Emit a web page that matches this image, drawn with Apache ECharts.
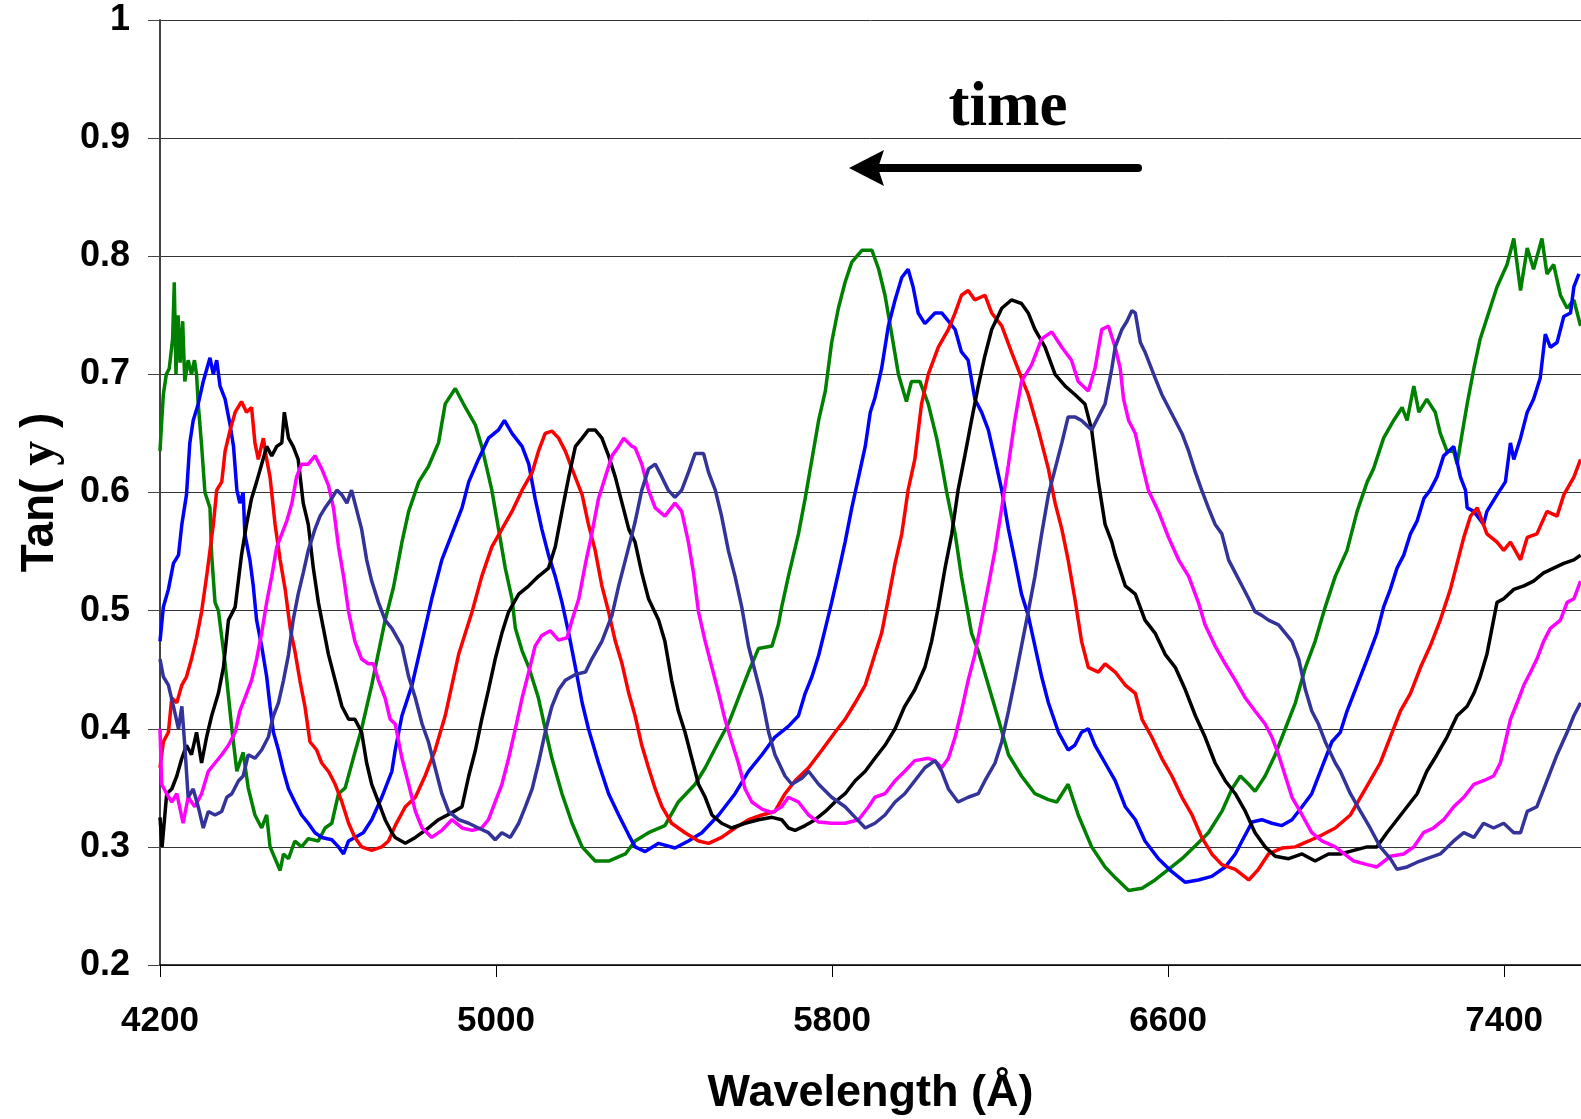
<!DOCTYPE html>
<html>
<head>
<meta charset="utf-8">
<script src="https://cdn.jsdelivr.net/npm/echarts@6/dist/echarts.min.js"></script>
<style>html,body{margin:0;padding:0;background:#fff}#c{width:1581px;height:1119px}</style>
</head>
<body>
<div id="c"></div>
<script>
// Axis ticks
const xTicks = [4200, 5000, 5800, 6600, 7400];
const yTicks = [0.2, 0.3, 0.4, 0.5, 0.6, 0.7, 0.8, 0.9, 1];

// Series: [wavelength (Å), Tan(psi)]
const green = [[4200,0.635],[4204,0.66],[4208,0.683],[4215,0.70],[4222,0.705],[4230,0.73],[4234,0.778],[4238,0.70],[4243,0.75],[4248,0.71],[4254,0.745],[4259,0.694],[4267,0.712],[4275,0.70],[4282,0.712],[4287,0.70],[4291,0.675],[4299,0.64],[4307,0.60],[4319,0.587],[4323,0.547],[4331,0.507],[4339,0.50],[4355,0.455],[4371,0.40],[4383,0.364],[4398,0.38],[4410,0.35],[4426,0.327],[4442,0.316],[4454,0.327],[4462,0.30],[4486,0.28],[4494,0.294],[4506,0.29],[4521,0.305],[4537,0.30],[4553,0.307],[4577,0.305],[4593,0.316],[4609,0.32],[4625,0.345],[4641,0.35],[4664,0.38],[4680,0.40],[4704,0.437],[4736,0.492],[4756,0.52],[4776,0.558],[4792,0.584],[4816,0.609],[4839,0.622],[4863,0.642],[4879,0.675],[4903,0.688],[4927,0.672],[4951,0.657],[4966,0.639],[4990,0.602],[5006,0.569],[5022,0.536],[5038,0.51],[5046,0.485],[5062,0.466],[5078,0.452],[5101,0.426],[5117,0.40],[5133,0.375],[5157,0.345],[5181,0.32],[5205,0.30],[5236,0.288],[5268,0.288],[5308,0.294],[5331,0.305],[5363,0.312],[5402,0.318],[5434,0.338],[5474,0.353],[5498,0.367],[5530,0.389],[5553,0.404],[5577,0.426],[5601,0.448],[5625,0.468],[5657,0.47],[5672,0.488],[5680,0.503],[5696,0.529],[5720,0.565],[5736,0.595],[5752,0.628],[5768,0.661],[5784,0.686],[5799,0.727],[5815,0.756],[5831,0.778],[5847,0.795],[5871,0.805],[5895,0.805],[5911,0.789],[5926,0.767],[5942,0.734],[5958,0.70],[5977,0.677],[5989,0.694],[6009,0.694],[6029,0.675],[6049,0.646],[6061,0.624],[6073,0.60],[6093,0.565],[6108,0.529],[6132,0.481],[6148,0.466],[6172,0.437],[6196,0.408],[6220,0.378],[6251,0.36],[6283,0.345],[6315,0.34],[6335,0.338],[6362,0.353],[6386,0.327],[6418,0.30],[6450,0.283],[6474,0.274],[6506,0.263],[6538,0.265],[6569,0.272],[6601,0.281],[6633,0.29],[6665,0.301],[6696,0.312],[6728,0.33],[6752,0.349],[6772,0.36],[6792,0.353],[6807,0.347],[6831,0.36],[6855,0.378],[6879,0.40],[6903,0.422],[6927,0.452],[6950,0.474],[6974,0.503],[6998,0.529],[7026,0.551],[7050,0.584],[7074,0.609],[7089,0.62],[7113,0.646],[7137,0.661],[7157,0.672],[7169,0.661],[7185,0.69],[7197,0.668],[7216,0.679],[7236,0.668],[7248,0.65],[7264,0.635],[7280,0.635],[7288,0.624],[7300,0.65],[7312,0.675],[7328,0.705],[7343,0.73],[7363,0.752],[7383,0.774],[7407,0.793],[7423,0.815],[7439,0.771],[7455,0.807],[7470,0.789],[7490,0.815],[7502,0.785],[7518,0.793],[7534,0.767],[7550,0.756],[7566,0.763],[7582,0.741]];

const blue = [[4200,0.474],[4208,0.503],[4220,0.518],[4232,0.54],[4244,0.547],[4252,0.573],[4263,0.598],[4271,0.642],[4279,0.661],[4291,0.675],[4303,0.694],[4319,0.714],[4327,0.70],[4335,0.712],[4343,0.69],[4355,0.679],[4367,0.657],[4375,0.639],[4383,0.602],[4390,0.591],[4398,0.60],[4402,0.565],[4414,0.543],[4422,0.521],[4430,0.492],[4442,0.47],[4454,0.444],[4462,0.419],[4470,0.397],[4482,0.382],[4494,0.364],[4506,0.349],[4521,0.338],[4537,0.327],[4553,0.32],[4569,0.312],[4585,0.308],[4609,0.306],[4625,0.30],[4637,0.294],[4649,0.305],[4664,0.308],[4684,0.312],[4704,0.323],[4728,0.342],[4752,0.364],[4760,0.382],[4776,0.411],[4800,0.437],[4824,0.474],[4847,0.51],[4871,0.543],[4895,0.565],[4919,0.587],[4935,0.609],[4958,0.628],[4982,0.646],[5006,0.653],[5020,0.661],[5038,0.65],[5062,0.639],[5078,0.624],[5093,0.595],[5109,0.569],[5125,0.547],[5141,0.529],[5157,0.507],[5173,0.481],[5189,0.452],[5205,0.422],[5220,0.40],[5244,0.371],[5268,0.345],[5292,0.327],[5316,0.31],[5331,0.30],[5355,0.296],[5387,0.303],[5426,0.299],[5458,0.305],[5490,0.312],[5530,0.327],[5569,0.345],[5601,0.364],[5633,0.378],[5664,0.393],[5696,0.402],[5720,0.411],[5736,0.43],[5752,0.444],[5768,0.462],[5784,0.485],[5799,0.507],[5815,0.532],[5831,0.558],[5847,0.587],[5863,0.613],[5879,0.639],[5891,0.668],[5902,0.68],[5918,0.705],[5934,0.741],[5950,0.763],[5966,0.782],[5981,0.789],[5993,0.774],[6005,0.752],[6021,0.743],[6045,0.752],[6061,0.752],[6077,0.745],[6093,0.738],[6108,0.719],[6124,0.712],[6140,0.679],[6156,0.668],[6172,0.653],[6188,0.628],[6204,0.602],[6220,0.569],[6235,0.543],[6251,0.514],[6267,0.496],[6283,0.47],[6299,0.444],[6315,0.422],[6339,0.397],[6362,0.382],[6378,0.386],[6394,0.397],[6410,0.40],[6426,0.386],[6450,0.371],[6474,0.356],[6498,0.334],[6522,0.323],[6545,0.305],[6577,0.29],[6609,0.279],[6641,0.27],[6672,0.272],[6704,0.275],[6736,0.283],[6760,0.294],[6776,0.305],[6800,0.321],[6823,0.323],[6847,0.32],[6871,0.318],[6895,0.323],[6919,0.334],[6942,0.345],[6966,0.367],[6990,0.389],[7010,0.397],[7026,0.415],[7050,0.437],[7074,0.459],[7097,0.481],[7113,0.503],[7129,0.518],[7145,0.536],[7161,0.547],[7177,0.565],[7193,0.576],[7209,0.595],[7224,0.602],[7240,0.613],[7256,0.631],[7280,0.639],[7296,0.613],[7308,0.602],[7312,0.587],[7328,0.584],[7351,0.573],[7359,0.584],[7383,0.598],[7403,0.609],[7415,0.642],[7423,0.628],[7439,0.646],[7455,0.668],[7470,0.679],[7486,0.697],[7498,0.734],[7510,0.723],[7526,0.727],[7542,0.749],[7558,0.752],[7566,0.774],[7578,0.785]];

const red = [[4200,0.367],[4208,0.389],[4220,0.397],[4228,0.426],[4240,0.422],[4252,0.437],[4263,0.444],[4275,0.459],[4287,0.477],[4299,0.499],[4311,0.529],[4319,0.551],[4327,0.573],[4335,0.602],[4347,0.609],[4355,0.635],[4367,0.653],[4379,0.668],[4394,0.677],[4406,0.668],[4418,0.672],[4426,0.642],[4434,0.628],[4446,0.646],[4454,0.628],[4462,0.613],[4474,0.573],[4486,0.543],[4498,0.518],[4510,0.485],[4521,0.466],[4533,0.441],[4545,0.419],[4557,0.389],[4573,0.382],[4585,0.371],[4601,0.364],[4617,0.353],[4633,0.338],[4649,0.32],[4664,0.308],[4680,0.30],[4704,0.297],[4728,0.30],[4744,0.305],[4760,0.318],[4784,0.334],[4808,0.342],[4831,0.36],[4855,0.382],[4879,0.411],[4895,0.437],[4911,0.463],[4927,0.481],[4943,0.499],[4966,0.529],[4990,0.554],[5014,0.569],[5038,0.584],[5062,0.602],[5086,0.617],[5101,0.635],[5117,0.65],[5133,0.652],[5149,0.646],[5165,0.635],[5181,0.62],[5205,0.598],[5220,0.573],[5236,0.551],[5252,0.521],[5268,0.499],[5284,0.474],[5300,0.455],[5316,0.43],[5331,0.411],[5347,0.386],[5363,0.367],[5379,0.349],[5395,0.334],[5418,0.32],[5450,0.312],[5482,0.305],[5506,0.303],[5537,0.308],[5569,0.316],[5601,0.323],[5633,0.327],[5664,0.33],[5688,0.345],[5712,0.356],[5744,0.367],[5776,0.382],[5807,0.397],[5831,0.408],[5855,0.422],[5879,0.437],[5895,0.455],[5902,0.463],[5918,0.481],[5934,0.51],[5950,0.54],[5966,0.565],[5981,0.602],[5997,0.628],[6013,0.675],[6029,0.70],[6053,0.723],[6077,0.738],[6093,0.752],[6108,0.767],[6124,0.771],[6140,0.763],[6164,0.767],[6180,0.752],[6204,0.741],[6227,0.719],[6251,0.697],[6267,0.683],[6291,0.653],[6315,0.62],[6331,0.591],[6347,0.569],[6362,0.543],[6378,0.51],[6394,0.474],[6410,0.452],[6434,0.448],[6450,0.455],[6474,0.448],[6498,0.437],[6522,0.43],[6538,0.408],[6561,0.393],[6585,0.375],[6609,0.36],[6633,0.342],[6657,0.327],[6680,0.308],[6704,0.294],[6728,0.285],[6760,0.281],[6792,0.272],[6815,0.281],[6839,0.294],[6871,0.299],[6903,0.30],[6935,0.305],[6966,0.31],[6998,0.316],[7034,0.327],[7058,0.342],[7081,0.356],[7105,0.371],[7129,0.393],[7153,0.415],[7177,0.43],[7201,0.452],[7224,0.47],[7248,0.492],[7272,0.518],[7288,0.54],[7304,0.562],[7320,0.58],[7336,0.587],[7359,0.565],[7383,0.558],[7399,0.551],[7415,0.558],[7439,0.543],[7455,0.562],[7478,0.565],[7502,0.584],[7526,0.58],[7542,0.598],[7566,0.613],[7582,0.628]];

const black = [[4200,0.325],[4205,0.30],[4216,0.345],[4228,0.349],[4240,0.36],[4252,0.375],[4263,0.386],[4275,0.378],[4287,0.397],[4299,0.371],[4311,0.393],[4323,0.411],[4339,0.43],[4351,0.452],[4363,0.492],[4379,0.503],[4394,0.547],[4406,0.573],[4418,0.595],[4430,0.609],[4442,0.624],[4454,0.639],[4466,0.631],[4478,0.639],[4490,0.642],[4496,0.668],[4506,0.646],[4517,0.639],[4529,0.628],[4541,0.591],[4553,0.573],[4565,0.536],[4577,0.507],[4589,0.485],[4601,0.463],[4617,0.441],[4633,0.419],[4649,0.408],[4664,0.408],[4680,0.397],[4692,0.371],[4704,0.353],[4720,0.338],[4736,0.323],[4752,0.312],[4760,0.308],[4784,0.303],[4808,0.308],[4839,0.316],[4863,0.323],[4895,0.329],[4919,0.334],[4935,0.36],[4951,0.382],[4966,0.408],[4982,0.433],[4998,0.459],[5014,0.481],[5030,0.499],[5054,0.514],[5078,0.521],[5101,0.529],[5125,0.536],[5141,0.554],[5157,0.584],[5173,0.613],[5189,0.639],[5205,0.646],[5220,0.653],[5236,0.653],[5252,0.646],[5268,0.631],[5284,0.613],[5300,0.591],[5316,0.569],[5331,0.558],[5347,0.532],[5363,0.51],[5387,0.492],[5402,0.474],[5418,0.441],[5434,0.415],[5450,0.397],[5466,0.375],[5482,0.353],[5498,0.342],[5514,0.327],[5537,0.32],[5561,0.316],[5593,0.32],[5625,0.323],[5657,0.325],[5680,0.323],[5696,0.316],[5712,0.314],[5736,0.318],[5760,0.323],[5784,0.33],[5807,0.338],[5831,0.345],[5855,0.356],[5879,0.364],[5902,0.375],[5926,0.386],[5950,0.40],[5973,0.419],[5997,0.433],[6021,0.452],[6037,0.474],[6053,0.503],[6069,0.536],[6085,0.565],[6100,0.602],[6116,0.631],[6132,0.661],[6148,0.69],[6164,0.716],[6180,0.738],[6204,0.756],[6227,0.763],[6251,0.76],[6267,0.752],[6283,0.738],[6307,0.723],[6331,0.70],[6355,0.69],[6378,0.683],[6402,0.675],[6418,0.653],[6434,0.609],[6450,0.573],[6466,0.558],[6474,0.547],[6498,0.521],[6522,0.514],[6545,0.492],[6569,0.481],[6593,0.463],[6617,0.452],[6641,0.433],[6665,0.411],[6688,0.393],[6712,0.371],[6736,0.356],[6760,0.345],[6784,0.33],[6807,0.312],[6831,0.30],[6855,0.292],[6887,0.29],[6919,0.294],[6950,0.288],[6982,0.294],[7010,0.294],[7042,0.297],[7074,0.30],[7097,0.30],[7121,0.312],[7145,0.323],[7169,0.334],[7193,0.345],[7216,0.364],[7240,0.378],[7264,0.393],[7288,0.411],[7312,0.419],[7328,0.43],[7343,0.444],[7359,0.463],[7371,0.485],[7383,0.507],[7399,0.51],[7423,0.518],[7447,0.521],[7470,0.525],[7494,0.532],[7518,0.536],[7542,0.54],[7566,0.543],[7582,0.547]];

const magenta = [[4200,0.40],[4204,0.353],[4216,0.345],[4228,0.338],[4240,0.345],[4255,0.32],[4267,0.342],[4283,0.334],[4299,0.345],[4315,0.364],[4331,0.371],[4347,0.378],[4363,0.386],[4379,0.397],[4390,0.415],[4402,0.426],[4418,0.441],[4430,0.459],[4442,0.481],[4454,0.507],[4466,0.529],[4478,0.554],[4490,0.565],[4502,0.576],[4514,0.591],[4525,0.613],[4537,0.624],[4553,0.624],[4569,0.631],[4585,0.62],[4601,0.606],[4613,0.587],[4625,0.554],[4637,0.529],[4649,0.499],[4664,0.474],[4680,0.459],[4696,0.455],[4708,0.455],[4720,0.441],[4736,0.426],[4748,0.408],[4760,0.404],[4776,0.375],[4792,0.353],[4808,0.33],[4824,0.316],[4847,0.308],[4871,0.314],[4895,0.323],[4919,0.316],[4943,0.314],[4966,0.316],[4982,0.323],[4998,0.338],[5014,0.353],[5030,0.375],[5046,0.40],[5062,0.426],[5078,0.448],[5093,0.47],[5109,0.479],[5129,0.483],[5149,0.475],[5169,0.477],[5181,0.492],[5197,0.51],[5213,0.54],[5228,0.565],[5244,0.595],[5260,0.613],[5276,0.631],[5292,0.639],[5304,0.646],[5324,0.639],[5331,0.638],[5347,0.624],[5363,0.602],[5379,0.587],[5402,0.58],[5426,0.591],[5442,0.584],[5458,0.558],[5470,0.532],[5482,0.499],[5498,0.474],[5514,0.452],[5530,0.43],[5545,0.408],[5561,0.389],[5577,0.371],[5593,0.349],[5609,0.338],[5633,0.332],[5657,0.329],[5680,0.334],[5696,0.342],[5720,0.338],[5744,0.327],[5768,0.321],[5799,0.32],[5831,0.32],[5863,0.323],[5887,0.334],[5902,0.342],[5926,0.345],[5950,0.356],[5973,0.364],[5997,0.373],[6029,0.375],[6045,0.373],[6061,0.367],[6077,0.375],[6093,0.393],[6108,0.415],[6124,0.441],[6140,0.463],[6156,0.492],[6172,0.521],[6188,0.551],[6204,0.587],[6220,0.624],[6235,0.661],[6251,0.694],[6275,0.708],[6299,0.73],[6323,0.736],[6347,0.723],[6370,0.712],[6386,0.694],[6410,0.686],[6426,0.705],[6442,0.738],[6458,0.741],[6474,0.723],[6486,0.705],[6494,0.679],[6506,0.661],[6522,0.65],[6538,0.624],[6553,0.602],[6577,0.584],[6601,0.562],[6625,0.543],[6649,0.529],[6672,0.507],[6688,0.488],[6712,0.47],[6736,0.455],[6760,0.441],[6784,0.426],[6807,0.415],[6831,0.404],[6847,0.393],[6863,0.378],[6879,0.36],[6895,0.342],[6919,0.327],[6942,0.312],[6966,0.305],[6998,0.30],[7042,0.288],[7074,0.285],[7097,0.283],[7129,0.292],[7161,0.294],[7185,0.30],[7208,0.312],[7232,0.316],[7256,0.323],[7280,0.334],[7304,0.342],[7328,0.353],[7351,0.356],[7375,0.36],[7391,0.371],[7403,0.389],[7415,0.408],[7431,0.422],[7447,0.437],[7463,0.448],[7478,0.459],[7494,0.474],[7510,0.485],[7534,0.492],[7550,0.507],[7566,0.51],[7582,0.525]];

const navy = [[4200,0.459],[4208,0.444],[4220,0.437],[4232,0.419],[4244,0.40],[4252,0.419],[4259,0.386],[4267,0.342],[4279,0.349],[4291,0.334],[4303,0.316],[4315,0.33],[4331,0.327],[4347,0.33],[4359,0.342],[4371,0.345],[4387,0.356],[4398,0.36],[4410,0.378],[4426,0.375],[4442,0.382],[4458,0.393],[4470,0.411],[4482,0.422],[4494,0.441],[4506,0.463],[4517,0.492],[4529,0.514],[4541,0.532],[4553,0.551],[4569,0.569],[4581,0.58],[4593,0.587],[4609,0.595],[4621,0.602],[4633,0.598],[4645,0.591],[4656,0.602],[4664,0.591],[4680,0.569],[4692,0.543],[4704,0.525],[4720,0.507],[4736,0.492],[4752,0.485],[4776,0.47],[4792,0.444],[4808,0.426],[4824,0.404],[4839,0.389],[4855,0.367],[4871,0.345],[4887,0.33],[4911,0.323],[4935,0.32],[4958,0.316],[4982,0.312],[4998,0.306],[5014,0.312],[5034,0.308],[5054,0.32],[5070,0.334],[5086,0.349],[5101,0.371],[5117,0.397],[5133,0.419],[5149,0.433],[5165,0.441],[5189,0.446],[5213,0.448],[5228,0.459],[5252,0.474],[5276,0.496],[5292,0.521],[5308,0.543],[5324,0.565],[5331,0.575],[5347,0.602],[5363,0.62],[5379,0.624],[5395,0.613],[5410,0.602],[5426,0.596],[5442,0.602],[5458,0.617],[5474,0.633],[5494,0.633],[5506,0.617],[5522,0.602],[5537,0.58],[5553,0.551],[5569,0.529],[5585,0.503],[5601,0.47],[5617,0.448],[5633,0.426],[5649,0.397],[5664,0.378],[5688,0.36],[5704,0.353],[5728,0.358],[5744,0.364],[5768,0.353],[5799,0.342],[5831,0.334],[5855,0.325],[5879,0.316],[5902,0.32],[5926,0.327],[5950,0.338],[5973,0.345],[5997,0.356],[6021,0.367],[6045,0.373],[6061,0.364],[6077,0.349],[6100,0.338],[6124,0.342],[6148,0.345],[6164,0.356],[6188,0.371],[6204,0.389],[6220,0.415],[6235,0.441],[6251,0.47],[6267,0.499],[6283,0.529],[6299,0.565],[6315,0.598],[6331,0.62],[6347,0.642],[6362,0.664],[6378,0.664],[6394,0.661],[6418,0.653],[6434,0.664],[6450,0.675],[6466,0.705],[6474,0.723],[6490,0.738],[6502,0.745],[6514,0.754],[6522,0.752],[6534,0.727],[6545,0.719],[6557,0.708],[6569,0.697],[6585,0.683],[6601,0.672],[6617,0.661],[6633,0.65],[6649,0.635],[6665,0.617],[6680,0.602],[6696,0.587],[6712,0.573],[6728,0.565],[6744,0.543],[6760,0.532],[6776,0.521],[6792,0.51],[6807,0.499],[6823,0.496],[6839,0.492],[6863,0.488],[6879,0.481],[6895,0.474],[6911,0.459],[6927,0.433],[6942,0.415],[6958,0.404],[6974,0.389],[6998,0.371],[7010,0.364],[7034,0.345],[7058,0.33],[7081,0.316],[7105,0.30],[7129,0.29],[7145,0.281],[7169,0.283],[7193,0.287],[7216,0.29],[7248,0.294],[7280,0.305],[7304,0.312],[7328,0.308],[7351,0.32],[7375,0.316],[7399,0.32],[7423,0.312],[7439,0.312],[7455,0.33],[7478,0.334],[7502,0.356],[7526,0.378],[7550,0.397],[7566,0.411],[7582,0.422]];

const seriesDefs = [
  {name: 'green', data: green, color: '#008000'},
  {name: 'blue', data: blue, color: '#0000FF'},
  {name: 'red', data: red, color: '#FF0000'},
  {name: 'black', data: black, color: '#000000'},
  {name: 'magenta', data: magenta, color: '#FF00FF'},
  {name: 'navy', data: navy, color: '#333399'}
];

const chart = echarts.init(document.getElementById('c'), null, {renderer: 'canvas'});
const bold = {fontWeight: 'bold', fontFamily: '"Liberation Sans", Arial, sans-serif', color: '#000'};
chart.setOption({
  animation: false,
  backgroundColor: '#fff',
  grid: {left: 160, right: 0, top: 20, bottom: 154, containLabel: false, outerBoundsMode: 'none'},
  xAxis: {
    type: 'value', min: xTicks[0], max: 7583, interval: xTicks[1] - xTicks[0],
    axisLine: {show: true, onZero: false, lineStyle: {color: '#000', width: 1.5}},
    axisTick: {show: true, length: 12, lineStyle: {color: '#000', width: 1}},
    axisLabel: Object.assign({margin: 39, fontSize: 35, showMaxLabel: false, formatter: v => xTicks.includes(v) ? String(v) : ''}, bold),
    splitLine: {show: false},
    name: 'Wavelength (Å)', nameLocation: 'middle', nameGap: 106,
    nameTextStyle: Object.assign({fontSize: 45}, bold)
  },
  yAxis: {
    type: 'value', min: yTicks[0], max: yTicks[yTicks.length - 1], interval: 0.1,
    axisLine: {show: true, lineStyle: {color: '#444', width: 2}},
    axisTick: {show: true, length: 12, lineStyle: {color: '#444', width: 1}},
    axisLabel: Object.assign({margin: 30, fontSize: 36, formatter: v => String(+v.toFixed(1))}, bold),
    splitLine: {show: true, lineStyle: {color: '#333', width: 1}},
    name: '{a|Tan(} {b|y} {a|)}', nameLocation: 'middle', nameGap: 95, nameRotate: 90,
    nameTextStyle: Object.assign({fontSize: 46, rich: {
      a: Object.assign({fontSize: 46}, bold),
      b: {fontSize: 50, fontWeight: 'bold', fontFamily: '"Liberation Serif", "Times New Roman", serif', color: '#000'}
    }}, bold)
  },
  series: seriesDefs.map(s => ({
    type: 'line', name: s.name, data: s.data, showSymbol: false, symbol: 'none',
    lineStyle: {color: s.color, width: 3.5}, itemStyle: {color: s.color}, clip: true
  })),
  graphic: [
    {type: 'text', x: 1008, y: 109, style: {text: 'time', font: 'bold 63px "Liberation Serif", "Times New Roman", serif', fill: '#000', align: 'center', verticalAlign: 'middle'}, z: 100},
    {type: 'line', shape: {x1: 1138, y1: 168, x2: 878, y2: 168}, style: {stroke: '#000', lineWidth: 8, lineCap: 'round'}, z: 100},
    {type: 'polygon', shape: {points: [[849, 168], [884, 150], [878, 168], [884, 186]]}, style: {fill: '#000'}, z: 100}
  ]
});
</script>
</body>
</html>
